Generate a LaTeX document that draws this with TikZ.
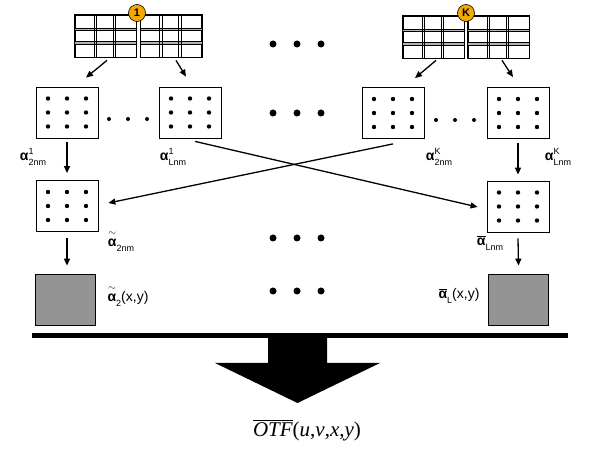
\documentclass[tikz,border=0pt]{standalone}
\usepackage{fontspec}
\usepackage{amsmath}
\setmainfont{Liberation Sans}
\newfontfamily\otffont{Liberation Serif}
\usepackage{xcolor}
\usepackage{tikz}
\usetikzlibrary{positioning,arrows.meta}
\definecolor{badgeorange}{RGB}{245,168,0}
\newcommand{\alp}{\text{\bfseries α}}
\newcommand{\talp}{$\overset{\sim}{\alp}$}
\newcommand{\balp}{$\overline{\alp}$}
% symbol with stacked super/subscript
\newcommand{\coefl}[3]{{#1}\rlap{\raisebox{6pt}{\fontsize{9}{9}\selectfont #2}}\raisebox{-5pt}{\fontsize{9}{9}\selectfont #3}}

\begin{document}
\begin{tikzpicture}[x=1pt, y=-1pt,
  tbl/.style={draw, line width=0.8pt, minimum width=61pt, minimum height=42pt, inner sep=0pt},
  gridline/.style={line width=0.9pt},
  gridband/.style={line width=2.4pt, draw=gray!60},
  dotbox/.style={draw, line width=0.8pt, minimum width=62pt, minimum height=51pt, inner sep=0pt,
    path picture={
      \foreach \dx in {-19,0,19}
        \foreach \dy in {-14,0,14}
          \fill ([shift={(\dx pt,\dy pt)}]path picture bounding box.center) circle (2.2pt);
    }},
  graybox/.style={draw, line width=0.8pt, fill=black!42, minimum width=60pt, minimum height=51pt, inner sep=0pt},
  badge/.style={circle, draw, line width=0.6pt, fill=badgeorange, inner sep=0pt, minimum size=17pt,
    font=\bfseries\fontsize{11}{11}\selectfont},
  lab/.style={inner sep=0pt, font=\fontsize{14}{16}\selectfont},
  arr/.style={-{Triangle[length=7pt,width=6pt]}, line width=1.3pt}]
\useasboundingbox (0,0) rectangle (598,449);

% input tables
\node[tbl] (grid1a) at (105.5,36) {};
\node[tbl] (grid1b) at (171,36) {};
\node[tbl] (gridKa) at (433.5,37) {};
\node[tbl] (gridKb) at (498.5,37) {};
\foreach \g in {grid1a,grid1b,gridKa,gridKb} {
  \foreach \dy in {6.5,-7} {
    \draw[gridband] ([yshift=\dy pt]\g.west) -- ([yshift=\dy pt]\g.east);
    \foreach \e in {-1.2,1.2}
      \draw[gridline] ([yshift=\dy pt+\e pt]\g.west) -- ([yshift=\dy pt+\e pt]\g.east);
  }
  \foreach \dx in {-10,9}
    \foreach \e in {-1.2,1.2}
      \draw[gridline] ([xshift=\dx pt+\e pt]\g.north) -- ([xshift=\dx pt+\e pt]\g.south);
  \draw[line width=0.8pt] (\g.north west) rectangle (\g.south east);
}
\node[badge] (badge1) at (137,13) {1};
\node[badge] (badgeK) at (466,13) {K};

% coefficient boxes
\node[dotbox] (coef12) at (67,112.5) {};
\node[dotbox] (coef1L) at (190,112.5) {};
\node[dotbox] (coefK2) at (393,113) {};
\node[dotbox] (coefKL) at (518,113) {};
\node[dotbox] (mean2) at (67,206) {};
\node[dotbox] (meanL) at (518,206.5) {};
\node[graybox] (field2) at (65,299.5) {};
\node[graybox] (fieldL) at (518.5,299.5) {};

% labels
\node[lab] (lab12) at (33,157) {\coefl{\bfseries α}{1}{2nm}};
\node[lab] (lab1L) at (173,157) {\coefl{\bfseries α}{1}{Lnm}};
\node[lab] (labK2) at (439,157) {\coefl{\bfseries α}{K}{2nm}};
\node[lab] (labKL) at (558,157) {\coefl{\bfseries α}{K}{Lnm}};
\node[lab] (labm2) at (121,241) {\coefl{\talp}{}{2nm}};
\node[lab] (labmL) at (490,243) {\coefl{\balp}{}{Lnm}};
\node[lab] (labf2) at (128,296) {\coefl{\talp}{}{2}(x,y)};
\node[lab] (labfL) at (459,296) {\coefl{\balp}{}{L}(x,y)};

% arrows
\draw[arr] ([shift={(1.5,3)}]grid1a.south) -- ([shift={(19,-9)}]coef12.north);
\draw[arr] ([shift={(5,3)}]grid1b.south) -- ([shift={(-4,-10)}]coef1L.north);
\draw[arr] ([shift={(2.5,2)}]gridKa.south) -- ([shift={(22,-9)}]coefK2.north);
\draw[arr] ([shift={(3.5,2)}]gridKb.south) -- ([shift={(-5,-10)}]coefKL.north);
\draw[arr] ([shift={(0,4)}]coef12.south) -- ([shift={(0,-7)}]mean2.north);
\draw[arr] ([shift={(0,4)}]coefKL.south) -- ([shift={(0,-6)}]meanL.north);
\draw[arr] ([shift={(5,3)}]coef1L.south) -- ([shift={(-9,0.5)}]meanL.west);
\draw[arr] ([shift={(0,5)}]coefK2.south) -- ([shift={(10,-3)}]mean2.east);
\draw[arr] ([shift={(0,6)}]mean2.south) -- ([shift={(2,-8)}]field2.north);
\draw[arr] ([shift={(0,6)}]meanL.south) -- ([shift={(0,-8)}]fieldL.north);

% ellipsis dots
\foreach \x in {109,128,147} \fill (\x,119) circle (2);
\foreach \x in {436,455,474} \fill (\x,120) circle (2);
\foreach \y in {44,113,238,291}
  \foreach \x in {273,297,321}
    \fill (\x,\y) circle (3.5);

% sum bar and output
\coordinate (barL) at (32,336);
\coordinate (barR) at (568,336);
\draw[line width=5pt] (barL) -- (barR);
\fill (268,338) -- (327,338) -- (327,363) -- (380,363) -- (297.5,403) -- (215,363) -- (268,363) -- cycle;
\node[inner sep=0pt, font=\otffont\fontsize{21}{23}\selectfont] (otf) at (307,430)
  {$\overline{\text{\itshape OTF}}$(\textit{u},\textit{v},\textit{x},\textit{y})};

\end{tikzpicture}
\end{document}
